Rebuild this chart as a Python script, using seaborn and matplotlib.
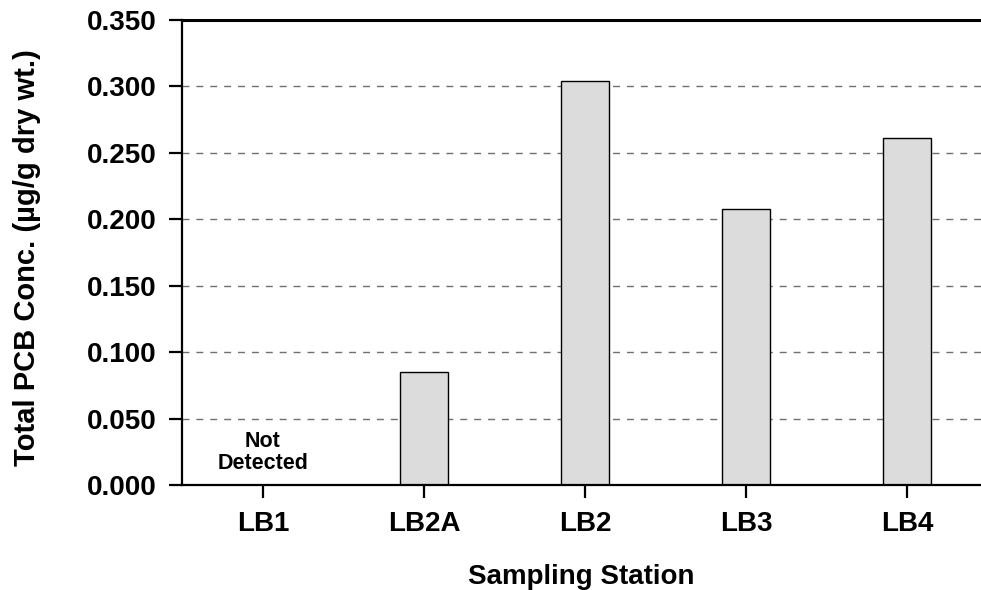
import matplotlib
matplotlib.use("Agg")
import matplotlib.pyplot as plt
import seaborn as sns
import pandas as pd

# Total PCB concentration by sampling station
stations = ["LB1", "LB2A", "LB2", "LB3", "LB4"]
pcb_conc = [0.0, 0.085, 0.304, 0.208, 0.261]
y_ticks = [0.000, 0.050, 0.100, 0.150, 0.200, 0.250, 0.300, 0.350]

df = pd.DataFrame({"Station": stations, "PCB": pcb_conc})

sns.set_theme(style="white")
plt.rcParams["font.family"] = ["Liberation Sans", "DejaVu Sans"]
plt.rcParams["font.weight"] = "bold"
plt.rcParams["text.color"] = "black"
plt.rcParams["axes.labelcolor"] = "black"

fig = plt.figure(figsize=(9.81, 5.90), dpi=100)
ax = fig.add_axes([0.1855, 0.178, 0.8145, 0.788])

sns.barplot(data=df, x="Station", y="PCB", order=stations, color="#dcdcdc",
            edgecolor="black", linewidth=1.0, width=0.3, saturation=1, ax=ax)

ax.set_xlim(-0.503, 4.46)
ax.set_ylim(0, 0.35)
ax.set_yticks(y_ticks)
ax.set_yticklabels([f"{v:.3f}" for v in y_ticks], fontsize=20, fontweight="bold")
ax.set_xticks(range(len(stations)))
ax.set_xticklabels(stations, fontsize=20, fontweight="bold")

ax.set_axisbelow(True)
ax.yaxis.grid(True, linestyle=(0, (5, 5)), color="#707070", linewidth=1.0)
ax.xaxis.grid(False)

for side in ["left", "bottom"]:
    ax.spines[side].set_linewidth(1.6)
    ax.spines[side].set_color("black")
ax.spines["top"].set_linewidth(2.2)
ax.spines["top"].set_color("black")
ax.spines["right"].set_visible(False)

ax.tick_params(axis="both", which="major", bottom=True, left=True,
               direction="out", length=9.5, width=1.6,
               color="black", labelcolor="black")
ax.tick_params(axis="y", pad=9)
ax.tick_params(axis="x", pad=9)

ax.text(0, 0.0085, "Not\nDetected", ha="center", va="bottom", fontsize=15.5,
        fontweight="bold", linespacing=1.05, color="black")

ax.set_xlabel("Sampling Station", fontsize=20, fontweight="bold", labelpad=20,
              color="black")
ax.set_ylabel("Total PCB Conc. (µg/g dry wt.)", fontsize=21, fontweight="bold",
              color="black")
ax.yaxis.set_label_coords(-0.177, 0.49)

fig.savefig("out.png", dpi=100)
